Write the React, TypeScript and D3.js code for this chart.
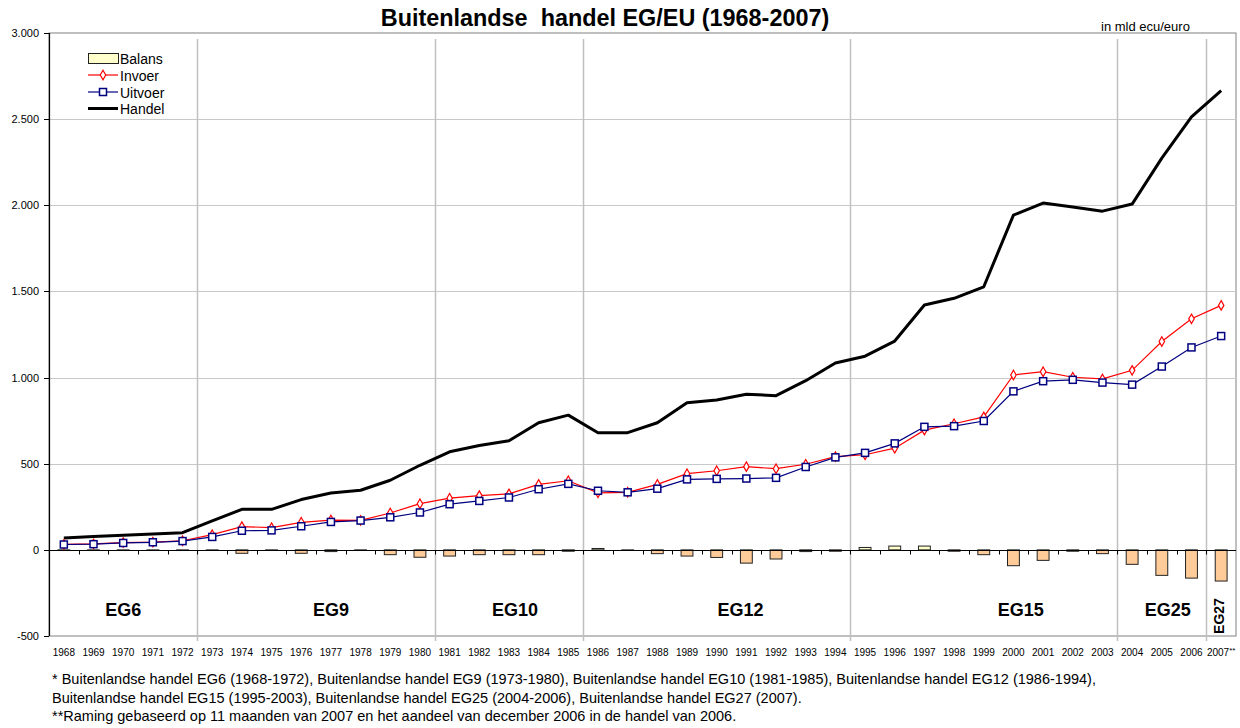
import React, { useEffect, useRef } from 'react';
import * as d3 from 'd3';

// jaren (categorieen)
const years = [
  '1968', '1969', '1970', '1971', '1972', '1973', '1974', '1975', '1976', '1977',
  '1978', '1979', '1980', '1981', '1982', '1983', '1984', '1985', '1986', '1987',
  '1988', '1989', '1990', '1991', '1992', '1993', '1994', '1995', '1996', '1997',
  '1998', '1999', '2000', '2001', '2002', '2003', '2004', '2005', '2006', '2007',
];
const yearLabels = years.map((y) => (y === '2007' ? '2007**' : y));

// in mld ecu/euro
const invoer = [
  32, 35, 42, 45, 53, 88, 135, 129, 160, 173,
  171, 214, 268, 300, 315, 325, 380, 401, 331, 334,
  380, 442, 459, 483, 471, 497, 541, 552, 590, 695,
  732, 772, 1015, 1034, 1002, 992, 1042, 1209, 1341, 1419,
];
const uitvoer = [
  31, 33, 40, 44, 51, 75, 111, 113, 137, 162,
  170, 189, 217, 265, 284, 304, 352, 383, 343, 334,
  355, 409, 412, 414, 418, 481, 537, 563, 618, 714,
  718, 748, 920, 979, 987, 971, 959, 1064, 1175, 1241,
];
const handel = [
  69, 77, 85, 92, 100, 168, 235, 235, 292, 330,
  346, 404, 491, 569, 606, 633, 738, 782, 680, 680,
  738, 854, 870, 903, 895, 982, 1085, 1124, 1212, 1421,
  1460, 1527, 1943, 2013, 1990, 1966, 2007, 2274, 2513, 2666,
];
const balans = [
  -2, -2, -3, -1, -2, -3, -20, -2, -20, -10,
  -2, -28, -43, -36, -28, -28, -28, -8, 8, -2,
  -22, -36, -44, -77, -53, -10, -8, 14, 22, 22,
  -8, -28, -92, -61, -8, -22, -84, -148, -164, -181,
];

// uitbreidingen
const periodNames = ['EG6', 'EG9', 'EG10', 'EG12', 'EG15', 'EG25', 'EG27'];
const periodStart = ['1968', '1973', '1981', '1986', '1995', '2004', '2007'];

const yTicks = [-500, 0, 500, 1000, 1500, 2000, 2500, 3000];

const footnotes = [
  '* Buitenlandse handel EG6 (1968-1972), Buitenlandse handel EG9 (1973-1980), Buitenlandse handel EG10 (1981-1985), Buitenlandse handel EG12 (1986-1994),',
  'Buitenlandse handel EG15 (1995-2003), Buitenlandse handel EG25 (2004-2006), Buitenlandse handel EG27 (2007).',
  '**Raming gebaseerd op 11 maanden van 2007 en het aandeel van december 2006 in de handel van 2006.',
];

const FONT = "'Liberation Sans', Arial, Helvetica, sans-serif";

const App = () => {
  const ref = useRef<SVGSVGElement | null>(null);

  useEffect(() => {
    const width = 1240;
    const height = 728;
    const left = 49;
    const right = 1236;
    const top = 33;
    const bottom = 636;

    const svg = d3.select(ref.current);
    svg.selectAll('*').remove();
    svg.attr('width', width).attr('height', height).style('font-family', FONT);

    const x = d3.scaleBand<string>().domain(years).range([left, right]).paddingInner(0.6).paddingOuter(0.3);
    const step = x.step();
    const cx = (yr: string) => (x(yr) as number) + x.bandwidth() / 2;
    const y = d3.scaleLinear().domain([-500, 3000]).range([bottom, top]);

    const nl = d3.formatLocale({ decimal: ',', thousands: '.', grouping: [3], currency: ['', ''], minus: '-' });
    const fmt = nl.format(',');

    // plotvlak rand
    svg.append('rect')
      .attr('x', left).attr('y', top).attr('width', right - left).attr('height', bottom - top)
      .attr('fill', 'white').attr('stroke', '#808080').attr('stroke-width', 1);

    // horizontale rasterlijnen
    svg.append('g').selectAll('line')
      .data(yTicks.filter((t) => t > -500 && t < 3000 && t !== 0))
      .join('line')
      .attr('x1', left).attr('x2', right)
      .attr('y1', (d) => Math.round(y(d)) + 0.5).attr('y2', (d) => Math.round(y(d)) + 0.5)
      .attr('stroke', '#c8c8c8');

    // scheidingslijnen tussen uitbreidingen
    svg.append('g').selectAll('line')
      .data(periodStart.slice(1))
      .join('line')
      .attr('x1', (d) => Math.round(cx(d) - step / 2) + 0.5)
      .attr('x2', (d) => Math.round(cx(d) - step / 2) + 0.5)
      .attr('y1', top + 6).attr('y2', bottom + 5)
      .attr('stroke', '#c0c0c0').attr('stroke-width', 1.5);

    // legenda achtergrond
    svg.append('rect')
      .attr('x', 69).attr('y', 45).attr('width', 117).attr('height', 74)
      .attr('fill', 'white');

    // balans staven
    svg.append('g').selectAll('rect')
      .data(balans)
      .join('rect')
      .attr('x', (d, i) => x(years[i]) as number)
      .attr('width', x.bandwidth())
      .attr('y', (d) => y(Math.max(0, d)))
      .attr('height', (d) => Math.abs(y(d) - y(0)))
      .attr('fill', (d) => (d < 0 ? '#ffcc99' : '#ffffcc'))
      .attr('stroke', '#222').attr('stroke-width', 1);

    // nul-as
    const y0 = Math.round(y(0)) + 0.5;
    svg.append('line')
      .attr('x1', left).attr('x2', right).attr('y1', y0).attr('y2', y0)
      .attr('stroke', 'black');
    svg.append('g').selectAll('line')
      .data(years.slice(1))
      .join('line')
      .attr('x1', (d) => Math.round(cx(d) - step / 2) + 0.5)
      .attr('x2', (d) => Math.round(cx(d) - step / 2) + 0.5)
      .attr('y1', y0).attr('y2', y0 + 4)
      .attr('stroke', 'black');

    // y-as
    svg.append('line')
      .attr('x1', left + 0.5).attr('x2', left + 0.5).attr('y1', top).attr('y2', bottom)
      .attr('stroke', 'black').attr('stroke-width', 1.2);
    const yAxis = svg.append('g');
    yAxis.selectAll('line')
      .data(yTicks)
      .join('line')
      .attr('x1', left - 5).attr('x2', left)
      .attr('y1', (d) => Math.round(y(d)) + 0.5).attr('y2', (d) => Math.round(y(d)) + 0.5)
      .attr('stroke', 'black');
    yAxis.selectAll('text')
      .data(yTicks)
      .join('text')
      .attr('x', left - 10).attr('y', (d) => y(d) + 4)
      .attr('text-anchor', 'end')
      .attr('font-size', 11)
      .attr('fill', '#000')
      .text((d) => fmt(d));

    // x-as labels
    const xl = svg.append('g').selectAll('text')
      .data(yearLabels)
      .join('text')
      .attr('x', (d, i) => cx(years[i]))
      .attr('y', 656)
      .attr('text-anchor', 'middle')
      .attr('font-size', 10)
      .attr('fill', '#000');
    xl.each(function (d) {
      const t = d3.select(this);
      const base = d.replace(/\*/g, '');
      const stars = d.slice(base.length);
      t.append('tspan').text(base);
      if (stars) t.append('tspan').attr('font-size', 8).attr('dy', -3).text(stars);
    });

    // lijnen
    const line = (vals: number[]) => d3.line<number>()
      .x((d, i) => cx(years[i]))
      .y((d) => y(d))(vals);

    svg.append('path')
      .attr('d', line(handel))
      .attr('fill', 'none').attr('stroke', 'black').attr('stroke-width', 3)
      .attr('stroke-linejoin', 'round');

    svg.append('path')
      .attr('d', line(invoer))
      .attr('fill', 'none').attr('stroke', '#ff0000').attr('stroke-width', 1.2);
    const diamond = d3.symbol().type(d3.symbolDiamond).size(26);
    svg.append('g').selectAll('path')
      .data(invoer)
      .join('path')
      .attr('transform', (d, i) => `translate(${cx(years[i])},${y(d)})`)
      .attr('d', diamond())
      .attr('fill', 'white').attr('stroke', '#ff0000').attr('stroke-width', 1.2);

    svg.append('path')
      .attr('d', line(uitvoer))
      .attr('fill', 'none').attr('stroke', '#000080').attr('stroke-width', 1.2);
    svg.append('g').selectAll('rect')
      .data(uitvoer)
      .join('rect')
      .attr('x', (d, i) => cx(years[i]) - 3.5)
      .attr('y', (d) => y(d) - 3.5)
      .attr('width', 7).attr('height', 7)
      .attr('fill', 'white').attr('stroke', '#000080').attr('stroke-width', 1.5);

    // uitbreiding labels
    const labelAnchor: Record<string, number> = {
      EG6: 2, EG9: 9, EG10: 15.2, EG12: 22.8, EG15: 32.25, EG25: 37.2,
    };
    periodNames.forEach((name) => {
      if (name === 'EG27') {
        svg.append('text')
          .attr('transform', `translate(${cx('2007') - 2},616) rotate(-90)`)
          .attr('text-anchor', 'middle')
          .attr('dy', '0.35em')
          .attr('font-size', 14).attr('font-weight', 'bold')
          .text(name);
      } else {
        svg.append('text')
          .attr('x', left + (labelAnchor[name] + 0.5) * step)
          .attr('y', 615.5)
          .attr('text-anchor', 'middle')
          .attr('font-size', 18).attr('font-weight', 'bold')
          .text(name);
      }
    });

    // legenda
    const lg = svg.append('g').attr('font-size', 14);
    lg.append('rect').attr('x', 88.5).attr('y', 53.5).attr('width', 30).attr('height', 10)
      .attr('fill', '#ffffcc').attr('stroke', '#222');
    lg.append('text').attr('x', 120).attr('y', 64).text('Balans');

    lg.append('line').attr('x1', 88).attr('x2', 118).attr('y1', 75).attr('y2', 75)
      .attr('stroke', '#ff0000').attr('stroke-width', 1.2);
    lg.append('path').attr('transform', 'translate(103,75)').attr('d', diamond())
      .attr('fill', 'white').attr('stroke', '#ff0000').attr('stroke-width', 1.2);
    lg.append('text').attr('x', 120).attr('y', 80.5).text('Invoer');

    lg.append('line').attr('x1', 88).attr('x2', 118).attr('y1', 92).attr('y2', 92)
      .attr('stroke', '#000080').attr('stroke-width', 1.2);
    lg.append('rect').attr('x', 99.5).attr('y', 88.5).attr('width', 7).attr('height', 7)
      .attr('fill', 'white').attr('stroke', '#000080').attr('stroke-width', 1.5);
    lg.append('text').attr('x', 120).attr('y', 97.5).text('Uitvoer');

    lg.append('line').attr('x1', 88).attr('x2', 118).attr('y1', 108.5).attr('y2', 108.5)
      .attr('stroke', 'black').attr('stroke-width', 3);
    lg.append('text').attr('x', 120).attr('y', 114).text('Handel');

    // titel
    svg.append('text')
      .attr('x', 605).attr('y', 26)
      .attr('text-anchor', 'middle')
      .attr('font-size', 23.4).attr('font-weight', 'bold')
      .style('white-space', 'pre')
      .text('Buitenlandse  handel EG/EU (1968-2007)');

    svg.append('text')
      .attr('x', 1101).attr('y', 31)
      .attr('font-size', 13)
      .text('in mld ecu/euro');

    // voetnoten
    svg.append('g').selectAll('text')
      .data(footnotes)
      .join('text')
      .attr('x', 52).attr('y', (d, i) => 684 + i * 18.5)
      .attr('font-size', 14.5)
      .text((d) => d);
  }, []);

  return <svg ref={ref} style={{ position: 'absolute', left: 0, top: 0 }} />;
};

export default App;
